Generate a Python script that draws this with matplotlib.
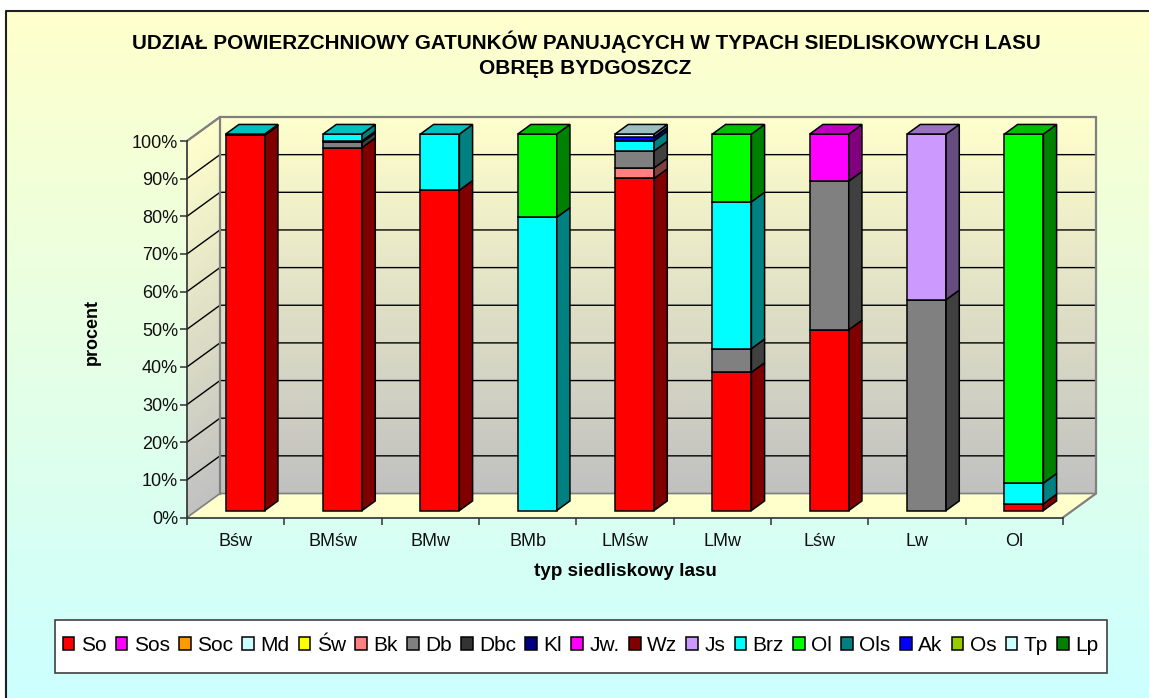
import numpy as np
import matplotlib
matplotlib.use("Agg")
import matplotlib.pyplot as plt
from matplotlib.patches import Polygon, Patch, Rectangle
from matplotlib.colors import to_rgb

plt.rcParams["font.family"] = ["Liberation Sans", "DejaVu Sans"]

# dane
categories = ["Bśw", "BMśw", "BMw", "BMb", "LMśw", "LMw", "Lśw", "Lw", "Ol"]
species = ["So", "Sos", "Soc", "Md", "Św", "Bk", "Db", "Dbc", "Kl", "Jw.", "Wz",
           "Js", "Brz", "Ol", "Ols", "Ak", "Os", "Tp", "Lp"]
colors = ["#FF0000", "#FF00FF", "#FF9900", "#CCFFFF", "#FFFF00", "#FF8080", "#808080",
          "#333333", "#000080", "#FF00FF", "#800000", "#CC99FF", "#00FFFF", "#00FF00",
          "#008080", "#0000FF", "#99CC00", "#CCFFFF", "#008000"]

so = [99.7, 96.4, 85.1, 0, 88.2, 36.7, 48.0, 0, 1.8]
bk = [0, 0, 0, 0, 2.8, 0, 0, 0, 0]
db = [0, 1.4, 0, 0, 4.5, 6.3, 39.5, 56.0, 0]
dbc = [0, 0.4, 0, 0, 0, 0, 0, 0, 0]
jw = [0, 0, 0, 0, 0, 0, 12.5, 0, 0]
js = [0, 0, 0, 0, 0, 0, 0, 44.0, 0]
brz = [0.3, 1.8, 14.9, 77.9, 2.7, 39.0, 0, 0, 5.5]
ol = [0, 0, 0, 22.1, 0, 18.0, 0, 0, 92.7]
ak = [0, 0, 0, 0, 1.0, 0, 0, 0, 0]
tp = [0, 0, 0, 0, 0.8, 0, 0, 0, 0]

stack = [("So", so), ("Bk", bk), ("Db", db), ("Dbc", dbc), ("Jw.", jw), ("Js", js),
         ("Brz", brz), ("Ol", ol), ("Ak", ak), ("Tp", tp)]
color_of = dict(zip(species, colors))

W, H = 1149, 698
fig = plt.figure(figsize=(W / 100, H / 100), dpi=100)

# tlo figury
bg = fig.add_axes([0, 0, 1, 1], zorder=0)
top_c = np.array(to_rgb("#FFFFCC"))
bot_c = np.array(to_rgb("#CCFFFF"))
t = np.linspace(0, 1, 256)[:, None, None]
bg.imshow(top_c * (1 - t) + bot_c * t, aspect="auto", extent=[6, W, H, 11])
bg.set_xlim(0, W)
bg.set_ylim(H, 0)
bg.axis("off")
bg.plot([6, 6, W], [H, 11, 11], color="#202020", lw=1.5)
# ramka legendy
bg.add_patch(Rectangle((55, 620), 1052, 53, fc="white", ec="#404040", lw=1.2))

# os glowna: x w kategoriach, y w procentach
ax = fig.add_axes([187 / W, 1 - 517.5 / H, 876 / W, 376.5 / H], zorder=1)
ax.patch.set_alpha(0)
ax.set_xlim(0, len(categories))
ax.set_ylim(0, 100)

DX = 33 / 97.33   # glebokosc w jednostkach kategorii
DY = 24 / 3.765   # glebokosc w procentach
n = len(categories)


def pt(x, y, d):
    return (x + d * DX, y + d * DY)


# sciany z gradientem
wall_top = np.array(to_rgb("#FFFFCC"))
wall_bot = np.array(to_rgb("#C0C0C0"))
levels = np.linspace(0, 100, 101)
for a, b in zip(levels[:-1], levels[1:]):
    c = wall_bot + (wall_top - wall_bot) * a / 100
    ax.add_patch(Polygon([pt(0, a, 1), pt(n, a, 1), pt(n, b, 1), pt(0, b, 1)],
                         fc=c, ec=c, lw=0.3, clip_on=False, zorder=1))
    ax.add_patch(Polygon([pt(0, a, 0), pt(0, a, 1), pt(0, b, 1), pt(0, b, 0)],
                         fc=c, ec=c, lw=0.3, clip_on=False, zorder=1))
# podloga
ax.add_patch(Polygon([pt(0, 0, 0), pt(n, 0, 0), pt(n, 0, 1), pt(0, 0, 1)],
                     fc="#FFFFCC", ec="none", clip_on=False, zorder=1))

# siatka
for v in range(10, 101, 10):
    xs, ys = zip(pt(0, v, 0), pt(0, v, 1), pt(n, v, 1))
    ax.plot(xs, ys, color="black", lw=1.0, clip_on=False, zorder=2)

# krawedzie scian
edge = "#808080"
xs, ys = zip(pt(0, 100, 0), pt(0, 100, 1), pt(n, 100, 1), pt(n, 0, 1), pt(n, 0, 0))
ax.plot(xs, ys, color=edge, lw=1.6, clip_on=False, zorder=3)
xs, ys = zip(pt(0, 0, 0), pt(0, 0, 1), pt(n, 0, 1))
ax.plot(xs, ys, color=edge, lw=1.2, clip_on=False, zorder=3)
xs, ys = zip(pt(0, 0, 1), pt(0, 100, 1))
ax.plot(xs, ys, color=edge, lw=1.6, clip_on=False, zorder=3)

# slupki
bar_w = 39 / 97.33
d0, d1 = 0.29, 0.69
z = 4
for i in range(n):
    x0 = i + 0.5 - bar_w / 2 + d0 * DX
    x1 = x0 + bar_w
    base = 0
    last = None
    for name, vals in stack:
        v = vals[i]
        if v <= 0:
            continue
        c = np.array(to_rgb(color_of[name]))
        ax.bar(x0 + bar_w / 2, v, width=bar_w, bottom=base + d0 * DY, color=c,
               edgecolor="black", lw=1.1, clip_on=False, zorder=z)
        ax.add_patch(Polygon([(x1, base + d0 * DY), (x1 + (d1 - d0) * DX, base + d1 * DY),
                              (x1 + (d1 - d0) * DX, base + v + d1 * DY), (x1, base + v + d0 * DY)],
                             fc=c * 0.5, ec="black", lw=1.1, clip_on=False, zorder=z))
        base += v
        last = c
    ax.add_patch(Polygon([(x0, base + d0 * DY), (x1, base + d0 * DY),
                          (x1 + (d1 - d0) * DX, base + d1 * DY),
                          (x0 + (d1 - d0) * DX, base + d1 * DY)],
                         fc=last * 0.75, ec="black", lw=1.1, clip_on=False, zorder=z))

# osie
for s in ["top", "right"]:
    ax.spines[s].set_visible(False)
for s in ["left", "bottom"]:
    ax.spines[s].set_color("#303030")
    ax.spines[s].set_linewidth(1.2)
    ax.spines[s].set_zorder(3)
ax.set_yticks(np.arange(0, 101, 10))
ax.set_yticklabels([f"{v}%" for v in range(0, 101, 10)], fontsize=13, color="#101010")
ax.set_xticks(np.arange(0, n + 1))
ax.set_xticklabels([])
ax.tick_params(axis="both", length=5, width=1.1, color="#303030")
ax.tick_params(axis="y", pad=1.5)
for i, cat in enumerate(categories):
    ax.annotate(cat, (i + 0.5, 0), xytext=(0, -11.5), textcoords="offset points",
                ha="center", va="top", fontsize=13, color="#101010", annotation_clip=False)

fig.text(586 / W, 1 - 42 / H, "UDZIAŁ POWIERZCHNIOWY GATUNKÓW PANUJĄCYCH W TYPACH SIEDLISKOWYCH LASU",
         ha="center", va="center", fontsize=14.9, fontweight="bold", zorder=5)
fig.text(585 / W, 1 - 69 / H, "OBRĘB BYDGOSZCZ", ha="center", va="center",
         fontsize=15, fontweight="bold", zorder=5)
fig.text(625 / W, 1 - 572 / H, "typ siedliskowy lasu", ha="center", va="center",
         fontsize=13.6, fontweight="bold", zorder=5)
fig.text(92 / W, 1 - 332 / H, "procent", rotation=90, ha="center", va="center",
         fontsize=13, fontweight="bold", zorder=5)

# legenda
handles = [Patch(fc=c, ec="black", lw=1.1) for c in colors]
leg = fig.legend(handles, species, ncol=len(species), loc="center",
                 bbox_to_anchor=(580.5 / W, 1 - 645.5 / H), fontsize=15, frameon=False,
                 handlelength=0.56, handleheight=0.56, handletextpad=0.3,
                 columnspacing=0.452, borderpad=0, borderaxespad=0)
leg.set_zorder(6)

fig.savefig("out.png", dpi=100)
